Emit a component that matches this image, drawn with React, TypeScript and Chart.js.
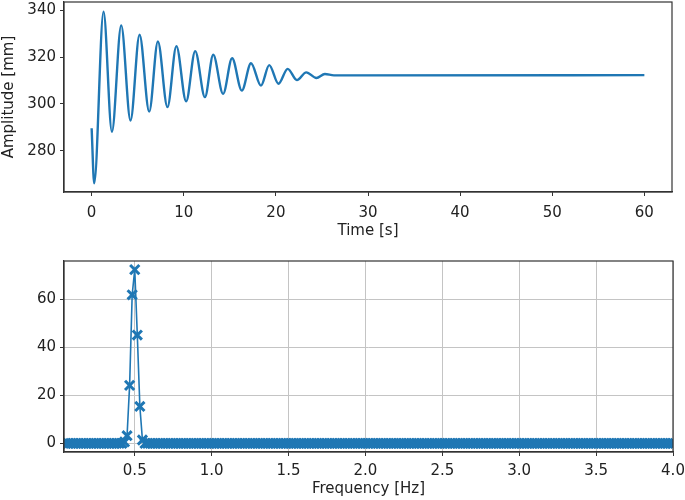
import React, { useEffect, useRef } from "react";
import { Chart, registerables } from "chart.js";

Chart.register(...registerables);

// ---------- Top panel: time response ----------
const timeSeconds = [
  0, 0.28, 1.29, 2.2, 3.21, 4.22, 5.2, 6.25, 7.19, 8.23, 9.2, 10.26, 11.24,
  12.3, 13.2, 14.27, 15.25, 16.3, 17.3, 18.38, 19.28, 20.28, 21.28, 22.28,
  23.3, 24.4, 25.32, 26.3, 60,
];
const amplitudeMm = [
  289.6, 266, 339.5, 288.1, 333.6, 292.9, 329.6, 296.7, 326.7, 298.6, 324.7,
  301.1, 322.6, 302.9, 321.0, 304.3, 319.5, 305.7, 317.4, 307.8, 316.6, 308.6,
  315.0, 310.2, 313.5, 311.1, 312.8, 312.2, 312.3,
];
const timeTicks = [0, 10, 20, 30, 40, 50, 60];
const amplitudeTicks = [280, 300, 320, 340];

// ---------- Bottom panel: spectrum ----------
const FFT_BIN_HZ = 1 / 60; // frequency resolution of the spectrum (60 s record)
const FFT_FIRST_BIN = 3;
const fftMagnitude = [
  0, 0, 0, 0, 0, 0, 0, 0, 0, 0, 0, 0, 0, 0, 0, 0, 0, 0, 0, 0, 0, 0, 0,
  0.6, 3.2, 24.2, 62, 72.5, 45.2, 15.4, 1.4,
  0, 0, 0, 0, 0, 0, 0, 0, 0, 0, 0, 0, 0, 0, 0, 0, 0, 0, 0, 0,
  0, 0, 0, 0, 0, 0, 0, 0, 0, 0, 0, 0, 0, 0, 0, 0, 0, 0, 0, 0,
  0, 0, 0, 0, 0, 0, 0, 0, 0, 0, 0, 0, 0, 0, 0, 0, 0, 0, 0, 0,
  0, 0, 0, 0, 0, 0, 0, 0, 0, 0, 0, 0, 0, 0, 0, 0, 0, 0, 0, 0,
  0, 0, 0, 0, 0, 0, 0, 0, 0, 0, 0, 0, 0, 0, 0, 0, 0, 0, 0, 0,
  0, 0, 0, 0, 0, 0, 0, 0, 0, 0, 0, 0, 0, 0, 0, 0, 0, 0, 0, 0,
  0, 0, 0, 0, 0, 0, 0, 0, 0, 0, 0, 0, 0, 0, 0, 0, 0, 0, 0, 0,
  0, 0, 0, 0, 0, 0, 0, 0, 0, 0, 0, 0, 0, 0, 0, 0, 0, 0, 0, 0,
  0, 0, 0, 0, 0, 0, 0, 0, 0, 0, 0, 0, 0, 0, 0, 0, 0, 0, 0, 0,
  0, 0, 0, 0, 0, 0, 0, 0, 0, 0, 0, 0, 0, 0, 0, 0, 0, 0, 0, 0,
  0, 0, 0, 0, 0, 0, 0,
];
const frequencyTicks = [0.5, 1.0, 1.5, 2.0, 2.5, 3.0, 3.5, 4.0];
const magnitudeTicks = [0, 20, 40, 60];

const BLUE = "#1f77b4";
const DARK = "#333333";
const TEXT = "#222222";
const FONT = { family: "'DejaVu Sans', sans-serif", size: 15 };

const framePlugin = {
  id: "frame",
  afterDatasetsDraw(chart: any) {
    const { ctx, chartArea } = chart;
    const { left, top, right, bottom } = chartArea;
    ctx.save();
    ctx.strokeStyle = DARK;
    ctx.lineWidth = 1.2;
    ctx.strokeRect(left, top, right - left, bottom - top);
    ctx.restore();
  },
};

function fixedTicks(values: number[]) {
  return (scale: any) => {
    scale.ticks = values.map((v) => ({ value: v }));
  };
}

function yFit(width: number) {
  return (scale: any) => {
    scale.width = width;
    scale.paddingTop = 0;
    scale.paddingBottom = 0;
  };
}
function xFit(height: number) {
  return (scale: any) => {
    scale.height = height;
    scale.paddingLeft = 0;
    scale.paddingRight = 0;
  };
}

export default function App() {
  const topRef = useRef<HTMLCanvasElement | null>(null);
  const botRef = useRef<HTMLCanvasElement | null>(null);

  useEffect(() => {
    const topPoints = timeSeconds.map((t, i) => ({ x: t, y: amplitudeMm[i] }));
    const fftPoints = fftMagnitude.map((m, i) => ({
      x: (FFT_FIRST_BIN + i) * FFT_BIN_HZ,
      y: m,
    }));

    const top = new Chart(topRef.current as HTMLCanvasElement, {
      type: "line",
      data: {
        datasets: [
          {
            data: topPoints,
            borderColor: BLUE,
            borderWidth: 2.4,
            pointRadius: 0,
            cubicInterpolationMode: "monotone",
            fill: false,
          },
        ],
      },
      options: {
        responsive: false,
        animation: false,
        events: [],
        layout: { padding: { top: 2, right: 13, bottom: 10, left: 0 } },
        plugins: { legend: { display: false }, tooltip: { enabled: false } },
        scales: {
          x: {
            type: "linear",
            min: -3,
            max: 63,
            afterBuildTicks: fixedTicks(timeTicks),
            afterFit: xFit(48),
            grid: {
              drawOnChartArea: false,
              drawTicks: true,
              tickLength: 4,
              tickColor: DARK,
              tickWidth: 1,
            },
            border: { display: true, color: DARK, width: 1.2 },
            ticks: {
              color: TEXT,
              font: FONT,
              padding: 8,
              maxRotation: 0,
              autoSkip: false,
              callback: (v: any) => String(v),
            },
            title: {
              display: true,
              text: "Time [s]",
              color: TEXT,
              font: FONT,
              padding: 0,
            },
          },
          y: {
            type: "linear",
            min: 262.3,
            max: 343.6,
            afterBuildTicks: fixedTicks(amplitudeTicks),
            afterFit: yFit(64),
            grid: {
              drawOnChartArea: false,
              drawTicks: true,
              tickLength: 4,
              tickColor: DARK,
              tickWidth: 1,
            },
            border: { display: true, color: DARK, width: 1.2 },
            ticks: {
              color: TEXT,
              font: FONT,
              padding: 4,
              autoSkip: false,
              callback: (v: any) => String(v),
            },
            title: {
              display: true,
              text: "Amplitude [mm]",
              color: TEXT,
              font: FONT,
              padding: 0,
            },
          },
        },
      },
      plugins: [framePlugin],
    } as any);

    const bot = new Chart(botRef.current as HTMLCanvasElement, {
      type: "line",
      data: {
        datasets: [
          {
            data: fftPoints,
            borderColor: BLUE,
            borderWidth: 1.6,
            pointStyle: "crossRot",
            pointRadius: 6.5,
            pointBorderWidth: 3,
            pointBorderColor: BLUE,
            pointBackgroundColor: BLUE,
            tension: 0,
            fill: false,
          },
        ],
      },
      options: {
        responsive: false,
        animation: false,
        events: [],
        layout: { padding: { top: 11, right: 12, bottom: 2, left: 0 } },
        plugins: { legend: { display: false }, tooltip: { enabled: false } },
        scales: {
          x: {
            type: "linear",
            min: 0.04,
            max: 4.0,
            afterBuildTicks: fixedTicks(frequencyTicks),
            afterFit: xFit(46),
            grid: {
              drawOnChartArea: true,
              color: "#c4c4c4",
              lineWidth: 1,
              drawTicks: true,
              tickLength: 4,
              tickColor: DARK,
              tickWidth: 1,
            },
            border: { display: true, color: DARK, width: 1.2 },
            ticks: {
              color: TEXT,
              font: FONT,
              padding: 6,
              maxRotation: 0,
              autoSkip: false,
              callback: (v: any) => Number(v).toFixed(1),
            },
            title: {
              display: true,
              text: "Frequency [Hz]",
              color: TEXT,
              font: FONT,
              padding: 0,
            },
          },
          y: {
            type: "linear",
            min: -3.6,
            max: 76.1,
            afterBuildTicks: fixedTicks(magnitudeTicks),
            afterFit: yFit(64),
            grid: {
              drawOnChartArea: true,
              color: "#c4c4c4",
              lineWidth: 1,
              drawTicks: true,
              tickLength: 4,
              tickColor: DARK,
              tickWidth: 1,
            },
            border: { display: true, color: DARK, width: 1.2 },
            ticks: {
              color: TEXT,
              font: FONT,
              padding: 4,
              autoSkip: false,
              callback: (v: any) => String(v),
            },
          },
        },
      },
      plugins: [framePlugin],
    } as any);

    return () => {
      top.destroy();
      bot.destroy();
    };
  }, []);

  return (
    <div
      style={{
        position: "absolute",
        left: 0,
        top: 0,
        width: 685,
        height: 500,
        background: "#ffffff",
      }}
    >
      <canvas
        ref={topRef}
        width={685}
        height={250}
        style={{ position: "absolute", left: 0, top: 0, display: "block" }}
      />
      <canvas
        ref={botRef}
        width={685}
        height={250}
        style={{ position: "absolute", left: 0, top: 250, display: "block" }}
      />
    </div>
  );
}
